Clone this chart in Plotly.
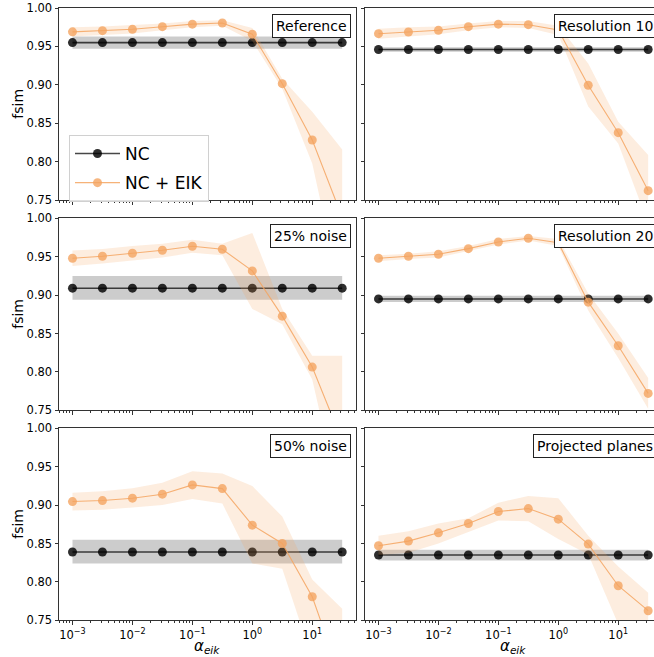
import plotly.graph_objects as go

# ---------------- data ----------------
alpha = [1e-3, 3.16e-3, 1e-2, 3.16e-2, 0.1, 0.316, 1.0, 3.16, 10.0, 31.6]

panel_titles = ["Reference", "Resolution 10", "25% noise", "Resolution 20",
                "50% noise", "Projected planes"]

# NC baseline (constant in alpha): mean, low, high per panel
nc_mean = {
    "Reference":        [0.955, 0.955, 0.955, 0.955, 0.955, 0.955, 0.955, 0.955, 0.955, 0.955],
    "Resolution 10":    [0.946, 0.946, 0.946, 0.946, 0.946, 0.946, 0.946, 0.946, 0.946, 0.946],
    "25% noise":        [0.909, 0.909, 0.909, 0.909, 0.909, 0.909, 0.909, 0.909, 0.909, 0.909],
    "Resolution 20":    [0.895, 0.895, 0.895, 0.895, 0.895, 0.895, 0.895, 0.895, 0.895, 0.895],
    "50% noise":        [0.839, 0.839, 0.839, 0.839, 0.839, 0.839, 0.839, 0.839, 0.839, 0.839],
    "Projected planes": [0.835, 0.835, 0.835, 0.835, 0.835, 0.835, 0.835, 0.835, 0.835, 0.835],
}
nc_lo = {
    "Reference":        [0.947, 0.947, 0.947, 0.947, 0.947, 0.947, 0.947, 0.947, 0.947, 0.947],
    "Resolution 10":    [0.943, 0.943, 0.943, 0.943, 0.943, 0.943, 0.943, 0.943, 0.943, 0.943],
    "25% noise":        [0.894, 0.894, 0.894, 0.894, 0.894, 0.894, 0.894, 0.894, 0.894, 0.894],
    "Resolution 20":    [0.891, 0.891, 0.891, 0.891, 0.891, 0.891, 0.891, 0.891, 0.891, 0.891],
    "50% noise":        [0.824, 0.824, 0.824, 0.824, 0.824, 0.824, 0.824, 0.824, 0.824, 0.824],
    "Projected planes": [0.828, 0.828, 0.828, 0.828, 0.828, 0.828, 0.828, 0.828, 0.828, 0.828],
}
nc_hi = {
    "Reference":        [0.963, 0.963, 0.963, 0.963, 0.963, 0.963, 0.963, 0.963, 0.963, 0.963],
    "Resolution 10":    [0.949, 0.949, 0.949, 0.949, 0.949, 0.949, 0.949, 0.949, 0.949, 0.949],
    "25% noise":        [0.925, 0.925, 0.925, 0.925, 0.925, 0.925, 0.925, 0.925, 0.925, 0.925],
    "Resolution 20":    [0.899, 0.899, 0.899, 0.899, 0.899, 0.899, 0.899, 0.899, 0.899, 0.899],
    "50% noise":        [0.855, 0.855, 0.855, 0.855, 0.855, 0.855, 0.855, 0.855, 0.855, 0.855],
    "Projected planes": [0.842, 0.842, 0.842, 0.842, 0.842, 0.842, 0.842, 0.842, 0.842, 0.842],
}

# NC + EIK: mean, low, high per panel
eik_mean = {
    "Reference":        [0.969, 0.9705, 0.9723, 0.9757, 0.979, 0.9805, 0.966, 0.9016, 0.8284, 0.728],
    "Resolution 10":    [0.9666, 0.9688, 0.971, 0.9757, 0.979, 0.9783, 0.9714, 0.8995, 0.8379, 0.7625],
    "25% noise":        [0.948, 0.9506, 0.9545, 0.9584, 0.9636, 0.9597, 0.9315, 0.8726, 0.8063, 0.71],
    "Resolution 20":    [0.948, 0.9506, 0.9532, 0.9605, 0.9692, 0.974, 0.9683, 0.8908, 0.834, 0.772],
    "50% noise":        [0.9046, 0.9059, 0.909, 0.9142, 0.9263, 0.9215, 0.8739, 0.85, 0.7807, 0.67],
    "Projected planes": [0.847, 0.8531, 0.8639, 0.876, 0.8916, 0.8955, 0.8817, 0.8492, 0.795, 0.7625],
}
eik_lo = {
    "Reference":        [0.963, 0.965, 0.967, 0.971, 0.975, 0.977, 0.957, 0.895, 0.798, 0.62],
    "Resolution 10":    [0.960, 0.963, 0.966, 0.971, 0.975, 0.974, 0.965, 0.872, 0.824, 0.72],
    "25% noise":        [0.938, 0.941, 0.945, 0.949, 0.955, 0.952, 0.882, 0.862, 0.79, 0.62],
    "Resolution 20":    [0.944, 0.947, 0.949, 0.957, 0.966, 0.971, 0.964, 0.880, 0.818, 0.752],
    "50% noise":        [0.893, 0.894, 0.897, 0.900, 0.908, 0.902, 0.824, 0.817, 0.70, 0.60],
    "Projected planes": [0.835, 0.838, 0.850, 0.865, 0.880, 0.879, 0.856, 0.836, 0.745, 0.70],
}
eik_hi = {
    "Reference":        [0.975, 0.976, 0.978, 0.980, 0.983, 0.984, 0.974, 0.908, 0.865, 0.816],
    "Resolution 10":    [0.973, 0.975, 0.976, 0.980, 0.983, 0.983, 0.977, 0.928, 0.852, 0.809],
    "25% noise":        [0.958, 0.960, 0.964, 0.967, 0.972, 0.967, 0.981, 0.882, 0.821, 0.821],
    "Resolution 20":    [0.952, 0.954, 0.957, 0.964, 0.973, 0.977, 0.973, 0.902, 0.850, 0.792],
    "50% noise":        [0.916, 0.918, 0.922, 0.929, 0.944, 0.941, 0.925, 0.885, 0.803, 0.765],
    "Projected planes": [0.860, 0.866, 0.876, 0.883, 0.903, 0.912, 0.909, 0.860, 0.820, 0.786],
}

y_ticks = [0.75, 0.80, 0.85, 0.90, 0.95, 1.00]
y_ticktext = ["0.75", "0.80", "0.85", "0.90", "0.95", "1.00"]
x_ticks = [1e-3, 1e-2, 1e-1, 1e0, 1e1]
x_ticktext = ["10<sup>\u22123</sup>", "10<sup>\u22122</sup>", "10<sup>\u22121</sup>",
              "10<sup>0</sup>", "10<sup>1</sup>"]

# ---------------- style ----------------
FONT = "DejaVu Sans"
W, H = 654, 657
NC_LINE = "rgba(0,0,0,0.72)"
NC_MARK = "rgba(0,0,0,0.82)"
NC_FILL = "rgba(0,0,0,0.2)"
EIK_LINE = "rgba(244,164,96,0.85)"
EIK_MARK = "rgba(244,164,96,0.8)"
EIK_FILL = "rgba(244,164,96,0.2)"
AX = "#333333"

# pixel layout (left, right) / (top, bottom)
col_px = [(59.0, 355.7), (365.0, 654.0)]
row_px = [(8.0, 200.3), (218.3, 410.3), (428.3, 620.3)]
col_range = [[-3.225, 1.725], [-3.225, 1.597]]

minor_vals = [m * 10 ** e for e in range(-4, 2) for m in range(2, 10)]

fig = go.Figure()
layout = {}
annotations = []

for i, name in enumerate(panel_titles):
    r, c = divmod(i, 2)
    n = i + 1
    xa = "x" if n == 1 else f"x{n}"
    ya = "y" if n == 1 else f"y{n}"
    show = (i == 0)

    # NC band + line
    fig.add_trace(go.Scatter(x=alpha, y=nc_lo[name], xaxis=xa, yaxis=ya, mode="lines",
                             line=dict(width=0), showlegend=False, hoverinfo="skip"))
    fig.add_trace(go.Scatter(x=alpha, y=nc_hi[name], xaxis=xa, yaxis=ya, mode="lines",
                             line=dict(width=0), fill="tonexty", fillcolor=NC_FILL,
                             showlegend=False, hoverinfo="skip"))
    fig.add_trace(go.Scatter(x=alpha, y=nc_mean[name], xaxis=xa, yaxis=ya, mode="lines+markers",
                             name="NC", legendgroup="NC", showlegend=show,
                             line=dict(color=NC_LINE, width=1.6),
                             marker=dict(color=NC_MARK, size=9)))
    # EIK band + line
    fig.add_trace(go.Scatter(x=alpha, y=eik_lo[name], xaxis=xa, yaxis=ya, mode="lines",
                             line=dict(width=0), showlegend=False, hoverinfo="skip"))
    fig.add_trace(go.Scatter(x=alpha, y=eik_hi[name], xaxis=xa, yaxis=ya, mode="lines",
                             line=dict(width=0), fill="tonexty", fillcolor=EIK_FILL,
                             showlegend=False, hoverinfo="skip"))
    fig.add_trace(go.Scatter(x=alpha, y=eik_mean[name], xaxis=xa, yaxis=ya, mode="lines+markers",
                             name="NC + EIK", legendgroup="EIK", showlegend=show,
                             line=dict(color=EIK_LINE, width=1.1),
                             marker=dict(color=EIK_MARK, size=9)))

    x0, x1 = col_px[c]
    y0, y1 = row_px[r]
    layout["xaxis" if n == 1 else f"xaxis{n}"] = dict(
        type="log", range=col_range[c], domain=[x0 / W, x1 / W], anchor=ya,
        automargin=False,
        showline=True, linecolor=AX, linewidth=1, mirror=True,
        showgrid=False, zeroline=False,
        ticks="outside", ticklen=3.5, tickwidth=0.8, tickcolor=AX,
        tickmode="array", tickvals=x_ticks, ticktext=x_ticktext,
        showticklabels=(r == 2),
        tickfont=dict(family=FONT, size=11.5, color="black"),
        minor=dict(ticks="outside", ticklen=2, tickwidth=0.6, tickcolor=AX,
                   tickmode="array", tickvals=minor_vals, showgrid=False),
    )
    layout["yaxis" if n == 1 else f"yaxis{n}"] = dict(
        range=[0.75, 1.0], domain=[1 - y1 / H, 1 - y0 / H], anchor=xa,
        automargin=False,
        showline=True, linecolor=AX, linewidth=1, mirror=(c == 0),
        showgrid=False, zeroline=False,
        ticks="outside", ticklen=3.5, tickwidth=0.8, tickcolor=AX,
        tickmode="array", tickvals=y_ticks, ticktext=y_ticktext,
        showticklabels=(c == 0),
        tickfont=dict(family=FONT, size=11.5, color="black"),
    )
    annotations.append(dict(
        text=name, xref=f"{xa} domain", yref=f"{ya} domain", x=1, y=1,
        xanchor="right", yanchor="top", xshift=(-5 if c == 0 else 2.6), yshift=-6,
        showarrow=False, font=dict(family=FONT, size=14, color="black"),
        bgcolor="white", bordercolor="#222222", borderwidth=1, borderpad=3,
    ))
    if c == 0:
        annotations.append(dict(
            text="fsim", xref="paper", yref="paper", x=18.5 / W, y=1 - (y0 + y1) / 2 / H,
            xanchor="center", yanchor="middle", textangle=-90, showarrow=False,
            font=dict(family=FONT, size=14, color="black")))
    if r == 2:
        annotations.append(dict(
            text="<i>\u03b1</i><sub><i>eik</i></sub>", xref="paper", yref="paper",
            x=(x0 + x1) / 2 / W if c == 0 else (365.0 + 661.6) / 2 / W,
            y=1 - 646 / H, xanchor="center", yanchor="middle", showarrow=False,
            font=dict(family=FONT, size=15, color="black")))

fig.update_layout(
    **layout,
    annotations=annotations,
    width=W, height=H,
    autosize=False,
    margin=dict(l=0, r=0, t=0, b=0, autoexpand=False),
    paper_bgcolor="white", plot_bgcolor="white",
    font=dict(family=FONT, color="black"),
    showlegend=True,
    legend=dict(x=69 / W, y=1 - 135 / H, xanchor="left", yanchor="top",
                bgcolor="rgba(255,255,255,0.85)", bordercolor="#d0d0d0", borderwidth=1,
                font=dict(family=FONT, size=17, color="black"),
                itemwidth=45, tracegroupgap=4),
)

fig.write_html(
    "out.html",
    config={"displayModeBar": False},
    post_script="document.body.style.margin='0';document.body.style.overflow='hidden';",
)
